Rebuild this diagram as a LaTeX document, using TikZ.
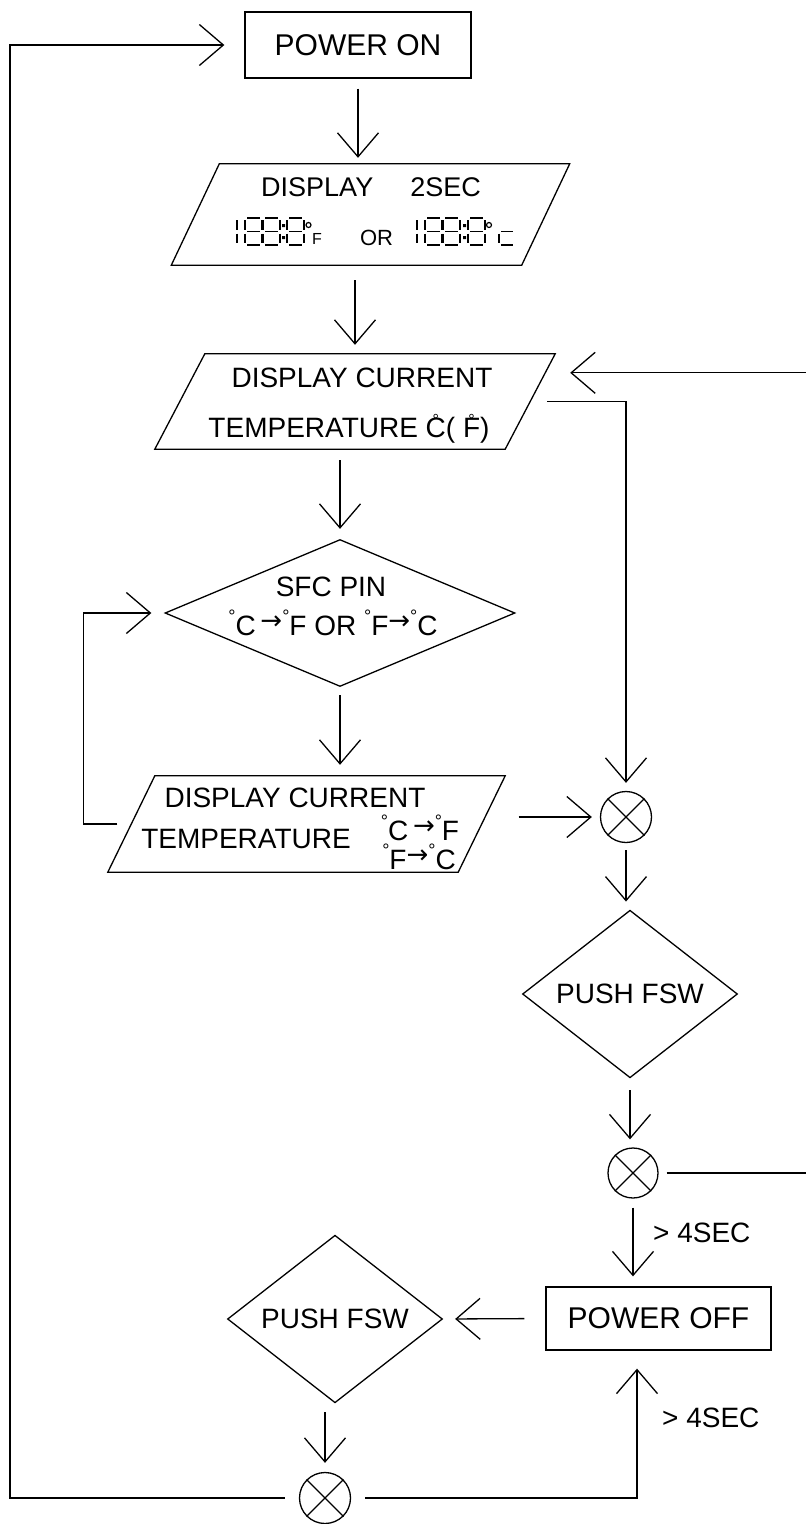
\documentclass[tikz,border=0pt]{standalone}
\usepackage{fontspec}
\setmainfont{Liberation Sans}
\newfontfamily\symfont{DejaVu Sans}
\usetikzlibrary{arrows.meta,shapes.geometric}

% small degree ring and raised arrow for the unit texts
\newcommand\dg{\raisebox{12.5pt}{\fontsize{18}{18}\selectfont °}}
\newcommand\toarr{\raisebox{6pt}{\symfont\fontsize{26}{26}\selectfont →}}
\newcommand\ringtop[1]{\ooalign{#1\cr\hfil\raisebox{11.5pt}{\fontsize{16}{16}\selectfont °}\hfil\cr}}
% slanted frame round an input/output node
\newcommand\ioframe[2]{\draw[flowline] ([xshift=#2]#1.north west) -- ([xshift=#2]#1.north east)
  -- ([xshift=-#2]#1.south east) -- ([xshift=-#2]#1.south west) -- cycle;}

\begin{document}
\begin{tikzpicture}[x=1pt,y=-1pt,
    flowline/.style={line width=1.3pt},
    flow/.style={flowline,-{Straight Barb[length=24pt,width=41pt]}},
    txt/.style={inner sep=0pt,font=\fontsize{28}{34}\selectfont},
    boxed/.style={draw,flowline,rectangle,inner sep=0pt,font=\fontsize{30}{36}\selectfont},
    iobox/.style={rectangle,inner sep=0pt,minimum width=350pt},
    decision/.style={draw,flowline,diamond,inner sep=0pt,font=\fontsize{28}{34}\selectfont},
    junction/.style={draw,flowline,circle,inner sep=0pt,minimum size=51pt},
    segline/.style={line width=1.2pt},
    pics/eight/.style={code={\draw[segline] (2,0) -- (15,0) (2,13.5) -- (15,13.5) (2,27) -- (15,27)
      (0,2) -- (0,11.5) (17,2) -- (17,11.5) (0,15.5) -- (0,25) (17,15.5) -- (17,25);}},
    pics/segbar/.style={code={\draw[segline] (0,2) -- (0,11.5) (0,15.5) -- (0,25);}},
    pics/segcolon/.style={code={\fill (0,6) rectangle (3,9) (0,18) rectangle (3,21);}},
    pics/segc/.style={code={\draw[segline] (2,13.5) -- (14,13.5) (0,15.5) -- (0,25) (2,27) -- (14,27);}}]
  \useasboundingbox (0,0) rectangle (806,1524);

  % main column
  \node[boxed,minimum width=226pt,minimum height=66pt] (poweron) at (358,45) {POWER ON};

  \node[iobox,minimum height=101pt] (show2s) at (370.5,214.5) {};
  \ioframe{show2s}{24pt}
  \node[txt,font=\fontsize{27}{32}\selectfont] (show2stext) at (371,187.5) {DISPLAY\hspace*{37pt}2SEC};
  \foreach \x in {245,263,287,425,443,468} \pic at (\x,218) {eight};
  \foreach \x in {237,417} \pic at (\x,218) {segbar};
  \foreach \x in {282,463} \pic at (\x,218) {segcolon};
  \foreach \x in {308.5,489} \draw[segline] (\x,225) circle (2.5);
  \pic at (499,218) {segc};
  \node[txt,font=\fontsize{16}{16}\selectfont,anchor=base] (unitf) at (317,244) {F};
  \node[txt,font=\fontsize{22}{22}\selectfont,anchor=base] (ortext) at (376.5,245) {OR};

  \node[iobox,minimum height=95pt] (curtemp) at (355,401.5) {};
  \ioframe{curtemp}{25pt}
  \node[txt,anchor=base] (curtempa) at (362,387) {DISPLAY CURRENT};
  \node[txt,anchor=base] (curtempb) at (349,437) {TEMPERATURE \ringtop{C}( \ringtop{F})};

  \node[decision,minimum width=350pt,minimum height=147pt] (sfc) at (340,613) {};
  \node[txt,anchor=base] (sfca) at (331,596) {SFC PIN};
  \node[txt,anchor=base] (sfcb) at (333,635) {\dg C\,\toarr\dg F OR \dg F\toarr\dg C};

  \node[iobox,minimum height=96pt] (convert) at (306.5,824) {};
  \ioframe{convert}{23.5pt}
  \node[txt,anchor=base] (converta) at (295,807.5) {DISPLAY CURRENT};
  \node[txt,anchor=base] (convertb) at (246,848) {TEMPERATURE};
  \node[txt,anchor=base] (convertc) at (420,840) {\dg C\,\toarr\dg F};
  \node[txt,anchor=base] (convertd) at (419,869) {\dg F\toarr\dg C};

  % right column
  \node[junction] (join1) at (626,817) {};
  \node[decision,minimum width=215pt,minimum height=128pt] (push1) at (630,994) {PUSH FSW};
  \node[junction,minimum size=50pt] (join2) at (633,1173) {};
  \node[boxed,minimum width=225pt,minimum height=63pt] (poweroff) at (658.5,1318.5) {POWER OFF};
  \node[decision,minimum width=215pt,minimum height=130pt] (push2) at (335,1319) {PUSH FSW};
  \node[junction] (join3) at (325,1498) {};
  \foreach \j in {join1,join2,join3}
    \draw[flowline] (\j.45) -- (\j.225) (\j.135) -- (\j.315);

  \node[txt,anchor=base west] (hold1) at (653,1242) {> 4SEC};
  \node[txt,anchor=base west] (hold2) at (662,1427) {> 4SEC};

  % connectors
  \draw[flow,shorten <=10pt,shorten >=6pt] (poweron.south) -- (poweron.south |- show2s.north);
  \draw[flow,shorten <=15pt,shorten >=9pt] (curtemp.north |- show2s.south) -- (curtemp.north);
  \draw[flow,shorten <=11pt,shorten >=10pt] (sfc.north |- curtemp.south) -- (sfc.north);
  \draw[flow,shorten <=8pt,shorten >=11pt] (sfc.south) -- (sfc.south |- convert.north);
  \draw[flow,shorten <=14pt,shorten >=13pt] (convert.west) -- ++(-48,0) |- (sfc.west);
  \draw[flow,shorten <=37pt,shorten >=8pt] (join1.west -| convert.east) -- (join1.west);
  \draw[flow,shorten <=17pt,shorten >=8pt] (curtemp.east) -| (join1.north);
  \draw[flow,shorten <=7pt,shorten >=8pt] (join1.south) -- (join1.south |- push1.north);
  \draw[flow,shorten <=12pt,shorten >=8pt] (push1.south) -- (push1.south |- join2.north);
  \draw[flow,shorten <=9pt,shorten >=10pt] (join2.south) -- (join2.south |- poweroff.north);
  \draw[flow,shorten <=8pt,shorten >=25pt] (join2.east) -- ++(152,0)
    |- ([xshift=15pt,yshift=-19pt]curtemp.north east);
  \draw[flow,shorten <=21pt,shorten >=12pt] (poweroff.west) -- (push2.east);
  \draw[flow,shorten <=9pt,shorten >=9pt] (join3.north |- push2.south) -- (join3.north);
  \draw[flow,shorten <=14pt,shorten >=20pt] (join3.west) -- ++(-289,0) |- (poweron.west);
  \draw[flow,shorten <=14pt,shorten >=18pt] (join3.east) -| ([xshift=-21.5pt]poweroff.south);
\end{tikzpicture}
\end{document}
